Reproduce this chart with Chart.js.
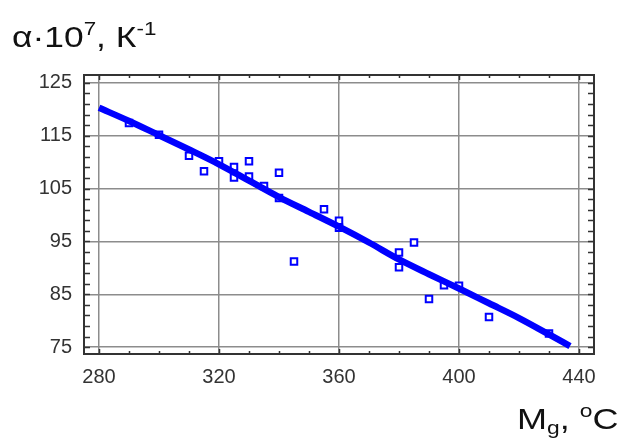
<!DOCTYPE html>
<html>
<head>
<meta charset="utf-8">
<script src="https://cdn.jsdelivr.net/npm/chart.js@4"></script>
<style>
  body { margin: 0; background: #fff; }
  #wrap { position: relative; width: 623px; height: 439px; }
  #myChart { position: absolute; left: 0; top: 0; }
  .ttl { position: absolute; font-family: "Liberation Sans", Arial, sans-serif; font-size: 30px; line-height: 30px; color: #111; white-space: nowrap; transform-origin: left top; }
  .sm { font-size: 19px; position: relative; }
</style>
</head>
<body>
<div id="wrap">
  <canvas id="myChart" width="623" height="439"></canvas>
  <div class="ttl" style="left:12px; top:22px; transform:scaleX(1.18);">α·10<span class="sm" style="top:-12px">7</span>, К<span class="sm" style="top:-12px">-1</span></div>
  <div class="ttl" style="left:517px; top:404px; transform:scaleX(1.2);">M<span class="sm" style="top:5px">g</span>, <span class="sm" style="top:-12px">o</span>C</div>
</div>
<script>
// 測定点
const pointX = [290, 300, 310, 315, 320, 325, 325, 330, 330, 335, 340, 340, 345, 355, 360, 360, 380, 380, 385, 390, 395, 400, 410, 430];
const pointY = [117.4, 115.2, 111.2, 108.3, 110.2, 109.1, 107.1, 110.2, 107.3, 105.5, 108.0, 103.2, 91.2, 101.1, 98.9, 97.6, 92.9, 90.1, 94.8, 84.1, 86.7, 86.6, 80.7, 77.6];
// 近似線
const lineX = [280, 290, 300, 310, 320, 330, 340, 350, 360, 370, 380, 390, 400, 410, 420, 430, 437];
const lineY = [120.3, 117.8, 115.1, 112.4, 109.6, 106.5, 103.4, 100.6, 97.8, 94.8, 91.6, 88.8, 86.1, 83.3, 80.5, 77.4, 75.2];
// 目盛り
const xTicks = [280, 320, 360, 400, 440];
const yTicks = [75, 85, 95, 105, 115, 125];

window.onload = function() {
    // 枠と内向きの小目盛り
    const framePlugin = {
        id: 'frame',
        afterDraw(chart) {
            const c = chart.ctx;
            const a = chart.chartArea;
            const xs = chart.scales.x;
            const ys = chart.scales.y;
            c.save();
            c.strokeStyle = '#333';
            c.lineWidth = 1.5;
            c.beginPath();
            for (let v = 75; v <= 126; v += 2) {
                const py = Math.round(ys.getPixelForValue(v)) + 0.5;
                c.moveTo(a.left, py); c.lineTo(a.left + 6, py);
                c.moveTo(a.right, py); c.lineTo(a.right - 6, py);
            }
            for (let v = 280; v <= 440; v += 10) {
                const px = Math.round(xs.getPixelForValue(v)) + 0.5;
                const len = (v % 40 === 0) ? 5 : 3;
                c.moveTo(px, a.top); c.lineTo(px, a.top + len);
                c.moveTo(px, a.bottom); c.lineTo(px, a.bottom - len);
            }
            c.stroke();
            c.lineWidth = 2;
            c.strokeRect(a.left, a.top, a.right - a.left, a.bottom - a.top);
            c.restore();
        }
    };

    const ctx = document.getElementById('myChart').getContext('2d');
    new Chart(ctx, {
        type: 'scatter',
        data: {
            datasets: [{
                type: 'line',
                data: lineX.map((x, i) => ({x: x, y: lineY[i]})),
                borderColor: '#0000ff',
                borderWidth: 6.5,
                pointRadius: 0,
                cubicInterpolationMode: 'monotone',
                fill: false,
                order: 0
            }, {
                data: pointX.map((x, i) => ({x: x, y: pointY[i]})),
                pointStyle: 'rect',
                pointRadius: 4.6,
                borderWidth: 2,
                borderColor: '#0000ff',
                backgroundColor: '#ffffff',
                order: 1
            }]
        },
        options: {
            responsive: false,
            animation: false,
            layout: { padding: { top: 75, right: 29, left: 0, bottom: 0 } },
            plugins: { legend: { display: false }, tooltip: { enabled: false } },
            scales: {
                x: {
                    type: 'linear',
                    min: 275,
                    max: 445,
                    afterBuildTicks: s => { s.ticks = xTicks.map(v => ({value: v})); },
                    afterFit: s => { s.height = 85; },
                    grid: { color: '#8c8c8c', lineWidth: 1.5, drawTicks: false },
                    border: { display: false },
                    ticks: { padding: 11, color: '#333', font: { family: 'Liberation Sans, Arial', size: 20 } }
                },
                y: {
                    min: 73.7,
                    max: 126.5,
                    afterBuildTicks: s => { s.ticks = yTicks.map(v => ({value: v})); },
                    afterFit: s => { s.width = 84; },
                    grid: { color: '#8c8c8c', lineWidth: 1.5, drawTicks: false },
                    border: { display: false },
                    ticks: { padding: 12, color: '#333', font: { family: 'Liberation Sans, Arial', size: 20 } }
                }
            }
        },
        plugins: [framePlugin]
    });
};
</script>
</body>
</html>
